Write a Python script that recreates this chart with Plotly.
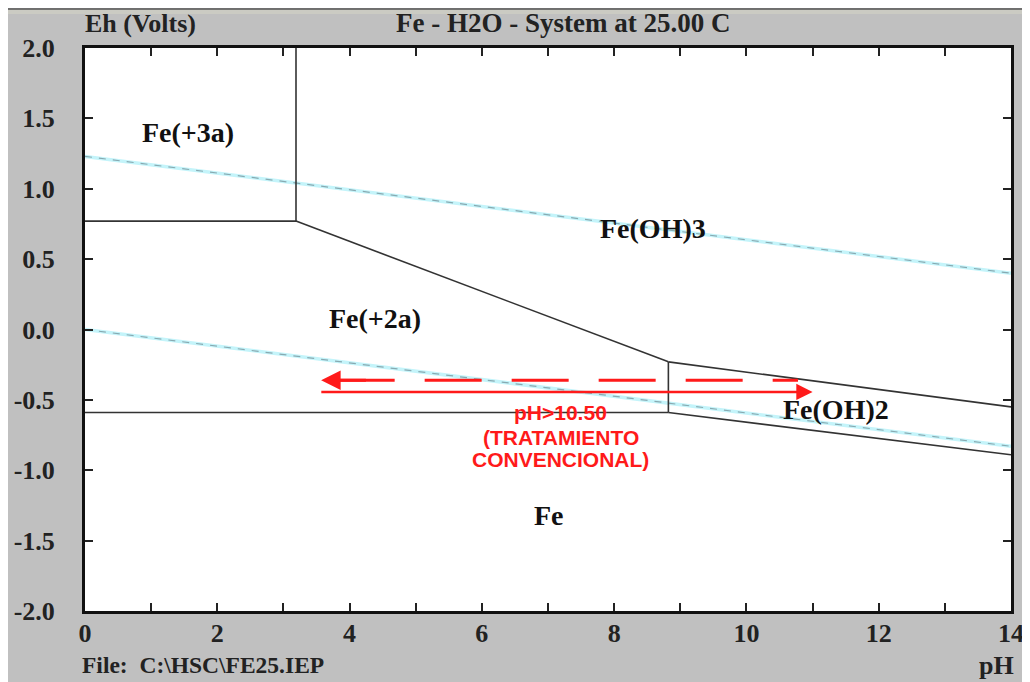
import plotly.graph_objects as go

# ---- data (pH, Eh in volts) ----
x_ticks = [0, 2, 4, 6, 8, 10, 12, 14]
y_ticks = [-2.0, -1.5, -1.0, -0.5, 0.0, 0.5, 1.0, 1.5, 2.0]

fe3_fe2_ph = [0, 3.19]
fe3_fe2_eh = [0.77, 0.77]
fe3_feoh3_ph = [3.19, 3.19]
fe3_feoh3_eh = [0.77, 2.0]
fe2_feoh3_ph = [3.19, 8.82]
fe2_feoh3_eh = [0.77, -0.23]
fe2_feoh2_ph = [8.82, 8.82]
fe2_feoh2_eh = [-0.23, -0.59]
fe2_fe_ph = [0, 8.82]
fe2_fe_eh = [-0.59, -0.59]
feoh3_feoh2_ph = [8.82, 14]
feoh3_feoh2_eh = [-0.23, -0.55]
feoh2_fe_ph = [8.82, 14]
feoh2_fe_eh = [-0.59, -0.89]

water_o2_ph = [0, 14]
water_o2_eh = [1.23, 0.40]
water_h2_ph = [0, 14]
water_h2_eh = [0.0, -0.83]

species_names = ["Fe(+3a)", "Fe(OH)3", "Fe(+2a)", "Fe(OH)2", "Fe"]
species_ph = [1.55, 8.58, 4.39, 11.35, 7.02]
species_eh = [1.40, 0.72, 0.08, -0.57, -1.32]

arrow_left_ph = [3.57, 10.78]
arrow_left_eh = -0.36
arrow_right_ph = [3.55, 11.0]
arrow_right_eh = -0.444

note_lines = ["pH>10.50", "(TRATAMIENTO", "CONVENCIONAL)"]
note_ph = 7.19
note_eh = [-0.593, -0.764, -0.927]

fig = go.Figure()

# water stability lines: cyan glow + grey dashes
for px, ey in [(water_o2_ph, water_o2_eh), (water_h2_ph, water_h2_eh)]:
    fig.add_trace(go.Scatter(x=px, y=ey, mode="lines",
                             line=dict(color="#c4f4fa", width=3.5), hoverinfo="skip"))
    fig.add_trace(go.Scatter(x=px, y=ey, mode="lines",
                             line=dict(color="#88aab2", width=1.2, dash="7px,7px"), hoverinfo="skip"))

boundaries = [
    (fe3_fe2_ph, fe3_fe2_eh), (fe3_feoh3_ph, fe3_feoh3_eh), (fe2_feoh3_ph, fe2_feoh3_eh),
    (fe2_feoh2_ph, fe2_feoh2_eh), (fe2_fe_ph, fe2_fe_eh), (feoh3_feoh2_ph, feoh3_feoh2_eh),
    (feoh2_fe_ph, feoh2_fe_eh),
]
for px, ey in boundaries:
    fig.add_trace(go.Scatter(x=px, y=ey, mode="lines",
                             line=dict(color="#333333", width=1.6), hoverinfo="skip"))

RED = "#ff1a1a"
# dashed arrow (pointing left)
fig.add_trace(go.Scatter(x=[arrow_left_ph[0] + 0.25, arrow_left_ph[1]],
                         y=[arrow_left_eh, arrow_left_eh], mode="lines",
                         line=dict(color=RED, width=3, dash="57px,30px"), hoverinfo="skip"))
fig.add_annotation(x=arrow_left_ph[0], y=arrow_left_eh, ax=arrow_left_ph[0] + 0.7, ay=arrow_left_eh,
                   xref="x", yref="y", axref="x", ayref="y", text="", showarrow=True,
                   arrowhead=2, arrowsize=1.3, arrowwidth=3, arrowcolor=RED)
# solid arrow (pointing right)
fig.add_annotation(x=arrow_right_ph[1], y=arrow_right_eh, ax=arrow_right_ph[0], ay=arrow_right_eh,
                   xref="x", yref="y", axref="x", ayref="y", text="", showarrow=True,
                   arrowhead=2, arrowsize=1.3, arrowwidth=2.5, arrowcolor=RED)

for t, e in zip(note_lines, note_eh):
    fig.add_annotation(x=note_ph, y=e, text=t, showarrow=False,
                       font=dict(family="Liberation Sans", size=21, color=RED, weight="bold"))

for n, px, ey in zip(species_names, species_ph, species_eh):
    fig.add_annotation(x=px, y=ey, text=n, showarrow=False,
                       font=dict(family="Liberation Serif", size=28, color="#111111", weight="bold"))


def px2x(p):
    return (p - 85) / 926


def py2y(p):
    return (611 - p) / 563


# frame text
def hdr(size):
    return dict(family="Liberation Serif", size=size, color="#222222", weight="bold")


fig.add_annotation(x=px2x(83), y=py2y(23), xref="paper", yref="paper", text="Eh (Volts)",
                   showarrow=False, xanchor="left", yanchor="middle", font=hdr(26))
fig.add_annotation(x=px2x(563), y=py2y(23), xref="paper", yref="paper",
                   text="Fe - H2O - System at 25.00 C", showarrow=False, yanchor="middle", font=hdr(27))
fig.add_annotation(x=px2x(80), y=py2y(665), xref="paper", yref="paper",
                   text="File:  C:\\HSC\\FE25.IEP", showarrow=False, xanchor="left", yanchor="middle",
                   font=hdr(23.5))
fig.add_annotation(x=px2x(1016), y=py2y(665), xref="paper", yref="paper",
                   text="pH", showarrow=False, xanchor="right", yanchor="middle", font=hdr(26))

# top band and dark line of the window frame
fig.add_shape(type="rect", xref="paper", yref="paper", x0=px2x(8), x1=px2x(1040), y0=py2y(9), y1=py2y(14),
              fillcolor="#cbcbc3", line_width=0, layer="below")
fig.add_shape(type="line", xref="paper", yref="paper", x0=px2x(8), x1=px2x(1040), y0=py2y(9), y1=py2y(9),
              line=dict(color="#555555", width=1.5), layer="below")

tickfont = dict(family="Liberation Serif", size=26, color="#222222", weight="bold")
fig.update_layout(
    width=1030, height=682,
    margin=dict(l=77, r=27, t=40, b=79, autoexpand=False),
    paper_bgcolor="#c0c0c0", plot_bgcolor="white",
    showlegend=False,
    xaxis=dict(range=[0, 14], tickvals=x_ticks, ticktext=[str(v) for v in x_ticks],
               ticks="inside", ticklen=8, tickwidth=2, tickcolor="#222222",
               minor=dict(dtick=1, ticks="inside", ticklen=8, tickwidth=2, tickcolor="#222222"),
               showline=True, linewidth=3, linecolor="#111111", mirror="ticks",
               showgrid=False, zeroline=False, tickfont=tickfont, ticklabelstandoff=-3,
               automargin=False),
    yaxis=dict(range=[-2, 2], tickvals=y_ticks, ticktext=[f"{v:.1f}" for v in y_ticks],
               ticks="inside", ticklen=8, tickwidth=2, tickcolor="#222222",
               showline=True, linewidth=3, linecolor="#111111", mirror="ticks",
               showgrid=False, zeroline=False, tickfont=tickfont, ticklabelstandoff=22,
               automargin=False),
)

fig.write_html("out.html")
